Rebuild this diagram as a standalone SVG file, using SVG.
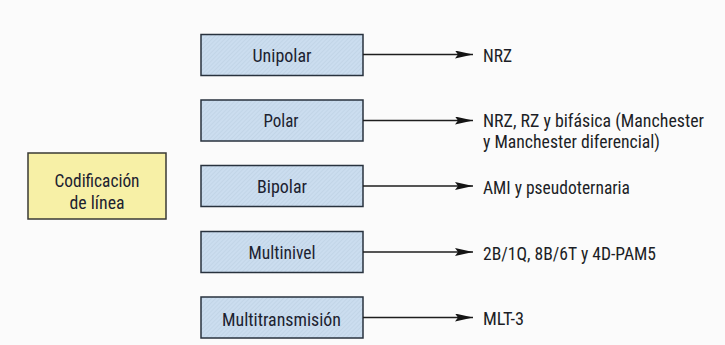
<svg xmlns="http://www.w3.org/2000/svg" width="725" height="345" viewBox="0 0 725 345">
  <style>
    .bg { fill: #fbfbfb; }
    .blue { fill: url(#hatch); stroke: #28323e; stroke-width: 1.5; }
    .yellow { fill: #f7f0a6; stroke: #3a3a34; stroke-width: 1.5; }
    .lbl { font-family: "Liberation Sans Narrow", "Roboto Condensed", "Liberation Sans", sans-serif; font-size: 18px; fill: #1c2230; text-anchor: middle; }
    .out { font-family: "Liberation Sans Narrow", "Roboto Condensed", "Liberation Sans", sans-serif; font-size: 18px; fill: #1c1e26; }
    .conn { stroke: #1e1e1e; stroke-width: 1.4; fill: none; marker-end: url(#arrow); }
  </style>
  <defs>
    <pattern id="hatch" patternUnits="userSpaceOnUse" width="3" height="3" patternTransform="rotate(45)">
      <rect width="3" height="3" fill="#cbddef"/>
      <line x1="0" y1="0" x2="0" y2="3" stroke="#b4c8dc" stroke-width="0.8"/>
    </pattern>
    <marker id="arrow" viewBox="0 0 18 8" refX="18" refY="4" markerWidth="18" markerHeight="8" markerUnits="userSpaceOnUse" orient="auto">
      <path d="M0,0 L18,4 L0,8 L3,4 Z" fill="#141414"/>
    </marker>
  </defs>
  <rect class="bg" x="0" y="0" width="725" height="345"/>

  <g id="codificacion">
    <rect class="yellow" x="28" y="153" width="138" height="66"/>
    <text class="lbl" x="97" y="186.5" textLength="85" lengthAdjust="spacingAndGlyphs">Codificación</text>
    <text class="lbl" x="97" y="208.5" textLength="55" lengthAdjust="spacingAndGlyphs">de línea</text>
  </g>

  <g id="unipolar">
    <rect class="blue" x="201" y="34.5" width="162" height="41"/>
    <text class="lbl" x="282" y="61.5" textLength="59" lengthAdjust="spacingAndGlyphs">Unipolar</text>
  </g>
  <g id="polar">
    <rect class="blue" x="201" y="100" width="162" height="41"/>
    <text class="lbl" x="281" y="127" textLength="35" lengthAdjust="spacingAndGlyphs">Polar</text>
  </g>
  <g id="bipolar">
    <rect class="blue" x="201" y="165.5" width="162" height="41"/>
    <text class="lbl" x="282" y="193" textLength="50" lengthAdjust="spacingAndGlyphs">Bipolar</text>
  </g>
  <g id="multinivel">
    <rect class="blue" x="201" y="231.5" width="162" height="41"/>
    <text class="lbl" x="282" y="258.5" textLength="67" lengthAdjust="spacingAndGlyphs">Multinivel</text>
  </g>
  <g id="multitransmision">
    <rect class="blue" x="201" y="297" width="162" height="41"/>
    <text class="lbl" x="281.5" y="325.5" textLength="119" lengthAdjust="spacingAndGlyphs">Multitransmisión</text>
  </g>

  <g id="connectors">
    <line class="conn" x1="363" y1="54.5" x2="473" y2="54.5"/>
    <line class="conn" x1="363" y1="120.5" x2="473" y2="120.5"/>
    <line class="conn" x1="363" y1="186" x2="473" y2="186"/>
    <line class="conn" x1="363" y1="252" x2="473" y2="252"/>
    <line class="conn" x1="363" y1="317.5" x2="473" y2="317.5"/>
  </g>

  <g id="outputs">
    <text class="out" x="483" y="62" textLength="29" lengthAdjust="spacingAndGlyphs">NRZ</text>
    <text class="out" x="483" y="126.5" textLength="221" lengthAdjust="spacingAndGlyphs">NRZ, RZ y bifásica (Manchester</text>
    <text class="out" x="483" y="148" textLength="177" lengthAdjust="spacingAndGlyphs">y Manchester diferencial)</text>
    <text class="out" x="483" y="193.5" textLength="147" lengthAdjust="spacingAndGlyphs">AMI y pseudoternaria</text>
    <text class="out" x="483" y="259.5" textLength="173" lengthAdjust="spacingAndGlyphs">2B/1Q, 8B/6T y 4D-PAM5</text>
    <text class="out" x="483" y="325" textLength="41" lengthAdjust="spacingAndGlyphs">MLT-3</text>
  </g>
</svg>
